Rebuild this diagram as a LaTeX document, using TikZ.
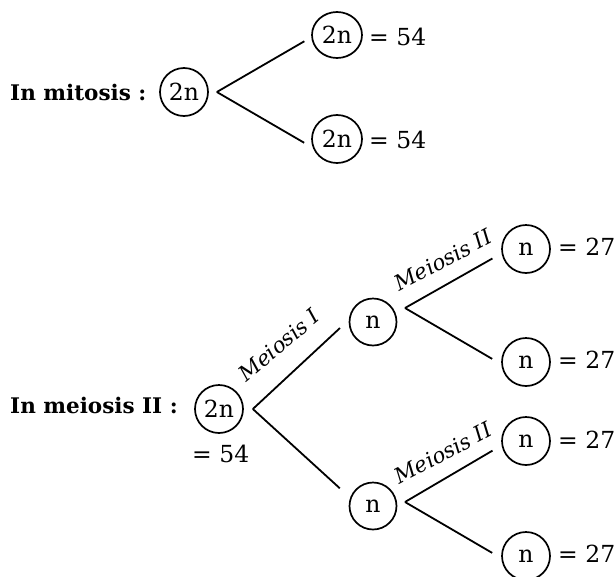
\documentclass[tikz,border=0pt]{standalone}
\usepackage{fontspec}
\setmainfont{DejaVu Serif}
\usetikzlibrary{shapes.geometric}
\tikzset{
  cell/.style={draw, ellipse, line width=1.7pt, inner sep=0pt, font=\fontsize{23.5}{26}\selectfont},
  lbl/.style={inner sep=0pt, anchor=base west, font=\fontsize{23.5}{26}\selectfont},
  head/.style={inner sep=0pt, anchor=base west, font=\fontsize{21.5}{26}\selectfont\bfseries},
  phase/.style={inner sep=0pt, font=\fontsize{21.3}{24}\selectfont\itshape},
  branch/.style={line width=1.8pt},
}
\begin{document}
\begin{tikzpicture}[x=1pt,y=-1pt]
\useasboundingbox (0,0) rectangle (616,576);

% ---- mitosis ----
\node[head] (hm) at (10,100) {In mitosis :};
\node[cell, minimum width=48pt, minimum height=48pt] (mr) at (184,92) {2n};
\node[cell, minimum width=50pt, minimum height=46pt] (mc1) at (337,35) {2n};
\node[cell, minimum width=50pt, minimum height=48pt] (mc2) at (337,139) {2n};
\coordinate (mv) at ([xshift=8pt]mr.east);
\draw[branch, shorten >=8pt] (mv) -- (mc1.185);
\draw[branch, shorten >=10pt] (mv) -- (mc2.200);
\node[lbl] (mt1) at (369,45) {= 54};
\node[lbl] (mt2) at (369,148) {= 54};

% ---- meiosis ----
\node[head] (hs) at (10,413) {In meiosis II :};
\node[cell, minimum width=48pt, minimum height=48pt] (sr) at (219,409) {2n};
\node[lbl] (st) at (192,462) {= 54};
\coordinate (sv) at ([xshift=9pt]sr.east);

\node[cell, minimum width=47pt, minimum height=47pt] (n1) at (373,322) {n};
\node[cell, minimum width=47pt, minimum height=47pt] (n2) at (373,506) {n};
\draw[branch, shorten >=12pt] (sv) -- (n1.175);
\draw[branch, shorten >=14pt] (sv) -- (n2.160);
\node[phase, rotate=40] (p1) at (279,345) {Meiosis I};

\coordinate (v1) at (405,308);
\coordinate (v2) at (405,502);

\node[cell, minimum width=48pt, minimum height=48pt] (l1) at (526,249) {n};
\node[cell, minimum width=48pt, minimum height=48pt] (l2) at (526,362) {n};
\node[cell, minimum width=48pt, minimum height=48pt] (l3) at (526,441) {n};
\node[cell, minimum width=48pt, minimum height=48pt] (l4) at (526,556) {n};
\draw[branch, shorten >=10.5pt] (v1) -- (l1.190);
\draw[branch, shorten >=10.5pt] (v1) -- (l2.185);
\draw[branch, shorten >=10.5pt] (v2) -- (l3.190);
\draw[branch, shorten >=10.5pt] (v2) -- (l4.185);
\node[phase, rotate=28] (p2) at (443,260) {Meiosis II};
\node[phase, rotate=28] (p3) at (443,453) {Meiosis II};

\node[lbl] (e1) at (558,255) {= 27};
\node[lbl] (e2) at (558,368) {= 27};
\node[lbl] (e3) at (558,448) {= 27};
\node[lbl] (e4) at (558,562) {= 27};
\end{tikzpicture}
\end{document}
